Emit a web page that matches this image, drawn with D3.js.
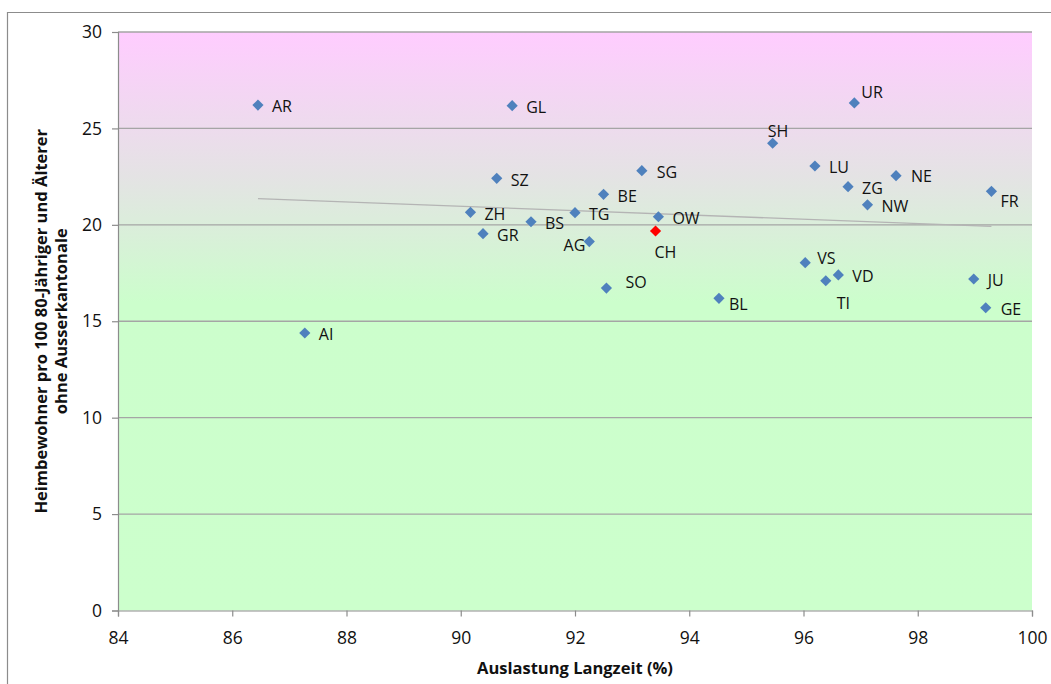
<!DOCTYPE html>
<html>
<head>
<meta charset="utf-8">
<script src="https://cdn.jsdelivr.net/npm/d3@7"></script>
<style>
  html, body { margin: 0; padding: 0; background: #fff; }
  svg { display: block; font-family: "Open Sans", "DejaVu Sans", sans-serif; }
</style>
</head>
<body>
<svg id="chart" width="1051" height="684"></svg>
<script>
// Cantons and their values: long-term occupancy (%) vs. residents per 100 aged 80+
const cantons   = ["AR","GL","SZ","ZH","GR","BS","TG","AG","BE","SG","OW","SO","BL","SH","UR","LU","ZG","NE","NW","FR","VS","VD","TI","JU","GE","AI"];
const occupancy = [86.45,90.90,90.63,90.17,90.39,91.23,92.00,92.25,92.50,93.17,93.46,92.55,94.52,95.46,96.89,96.20,96.78,97.62,97.12,99.29,96.03,96.61,96.39,98.98,99.19,87.27];
const residents = [26.21,26.18,22.41,20.65,19.54,20.16,20.63,19.13,21.58,22.81,20.42,16.72,16.19,24.23,26.32,23.05,21.98,22.55,21.04,21.74,18.04,17.40,17.10,17.19,15.70,14.39];

// Swiss total
const totalLabel = "CH";
const totalOccupancy = 93.41;
const totalResidents = 19.68;

// Axis setup
const xDomain = [84, 100];
const yDomain = [0, 30];
const xTicks = [84, 86, 88, 90, 92, 94, 96, 98, 100];
const yTicks = [0, 5, 10, 15, 20, 25, 30];
const xTitle = "Auslastung Langzeit (%)";
const yTitleLines = ["Heimbewohner pro 100 80-Jähriger und Älterer", "ohne Ausserkantonale"];

// Label placement relative to the marker (text start x, text centre y)
const labelDefault = [14, 1.5];
const labelPlacement = {
  AG: [-4, 4, "end"],
  CH: [-1, 21],
  SO: [19, -6],
  BL: [10, 6],
  SH: [-5, -12.5],
  UR: [7, -11],
  FR: [9, 10],
  VS: [12, -4],
  TI: [11, 22],
  SG: [15, 2],
  NE: [15, 1],
  GE: [15, 1]
};

const svg = d3.select("#chart");
const plot = { left: 118, top: 32, right: 1032, bottom: 610.5 };

const x = d3.scaleLinear().domain(xDomain).range([plot.left, plot.right]);
const y = d3.scaleLinear().domain(yDomain).range([plot.bottom, plot.top]);

// Outer chart frame
svg.append("path")
  .attr("d", `M7.5,684 V12.5 H1051`)
  .attr("fill", "none").attr("stroke", "#8c8c8c").attr("stroke-width", 1.2);

// Plot background gradient: pink at the top fading into green
const defs = svg.append("defs");
const grad = defs.append("linearGradient")
  .attr("id", "bg").attr("gradientUnits", "userSpaceOnUse")
  .attr("x1", 0).attr("x2", 0).attr("y1", plot.top).attr("y2", plot.bottom);
const gStop = (v) => (y(v) - plot.top) / (plot.bottom - plot.top);
grad.append("stop").attr("offset", 0).attr("stop-color", "#ffccff");
grad.append("stop").attr("offset", gStop(22.5)).attr("stop-color", "#e4e3e4");
grad.append("stop").attr("offset", gStop(16)).attr("stop-color", "#ccfecc");
grad.append("stop").attr("offset", 1).attr("stop-color", "#ccffcc");

svg.append("rect")
  .attr("x", plot.left).attr("y", plot.top)
  .attr("width", plot.right - plot.left).attr("height", plot.bottom - plot.top)
  .attr("fill", "url(#bg)");

// Horizontal gridlines
svg.append("g").selectAll("line")
  .data(yTicks.filter(t => t > 0))
  .join("line")
  .attr("x1", plot.left).attr("x2", plot.right)
  .attr("y1", d => y(d)).attr("y2", d => y(d))
  .attr("stroke", "#a5a5a5").attr("stroke-width", 1.3);

// Axes
const axisColor = "#8c8c8c";
const yAxis = svg.append("g")
  .attr("transform", `translate(${plot.left},0)`)
  .call(d3.axisLeft(y).tickValues(yTicks).tickSize(6).tickPadding(10).tickFormat(d3.format("d")));
const xAxis = svg.append("g")
  .attr("transform", `translate(0,${plot.bottom})`)
  .call(d3.axisBottom(x).tickValues(xTicks).tickSize(6).tickPadding(15).tickFormat(d3.format("d")));
[xAxis, yAxis].forEach(g => {
  g.select(".domain").attr("stroke", axisColor).attr("stroke-width", 1.2);
  g.selectAll(".tick line").attr("stroke", axisColor).attr("stroke-width", 1.2);
  g.selectAll(".tick text").attr("fill", "#111").style("font-size", "17.5px")
    .style("font-family", "'Open Sans', sans-serif");
});

// Linear trend line over the cantons
const n = cantons.length;
const mx = d3.mean(occupancy), my = d3.mean(residents);
let sxy = 0, sxx = 0;
for (let i = 0; i < n; i++) {
  sxy += (occupancy[i] - mx) * (residents[i] - my);
  sxx += (occupancy[i] - mx) ** 2;
}
const slope = sxy / sxx, intercept = my - slope * mx;
const [xmin, xmax] = d3.extent(occupancy);
svg.append("line")
  .attr("x1", x(xmin)).attr("y1", y(intercept + slope * xmin))
  .attr("x2", x(xmax)).attr("y2", y(intercept + slope * xmax))
  .attr("stroke", "#b4b4b4").attr("stroke-width", 1.3);

// Markers
const diamond = d3.symbol().type(d3.symbolDiamond2).size(80);
const points = cantons.map((c, i) => ({ name: c, x: occupancy[i], y: residents[i], color: "#4f81bd" }));
points.push({ name: totalLabel, x: totalOccupancy, y: totalResidents, color: "#ff0000" });

svg.append("g").selectAll("path")
  .data(points)
  .join("path")
  .attr("d", diamond)
  .attr("transform", d => `translate(${x(d.x)},${y(d.y)})`)
  .attr("fill", d => d.color);

// Canton labels
svg.append("g").selectAll("text")
  .data(points)
  .join("text")
  .attr("x", d => x(d.x) + (labelPlacement[d.name] || labelDefault)[0])
  .attr("y", d => y(d.y) + (labelPlacement[d.name] || labelDefault)[1] + 5.8)
  .attr("text-anchor", d => (labelPlacement[d.name] || [])[2] || "start")
  .attr("fill", "#111")
  .style("font-size", "16px")
  .text(d => d.name);

// Axis titles
svg.append("text")
  .attr("x", (plot.left + plot.right) / 2).attr("y", 674)
  .attr("text-anchor", "middle")
  .style("font-size", "16.5px").style("font-weight", "bold")
  .attr("fill", "#111")
  .text(xTitle);

const yt = svg.append("text")
  .attr("transform", `translate(47,${(plot.top + plot.bottom) / 2}) rotate(-90)`)
  .attr("text-anchor", "middle")
  .style("font-size", "16.5px").style("font-weight", "bold")
  .attr("fill", "#111");
yTitleLines.forEach((line, i) => {
  yt.append("tspan").attr("x", 0).attr("dy", i === 0 ? 0 : 20).text(line);
});
</script>
</body>
</html>
